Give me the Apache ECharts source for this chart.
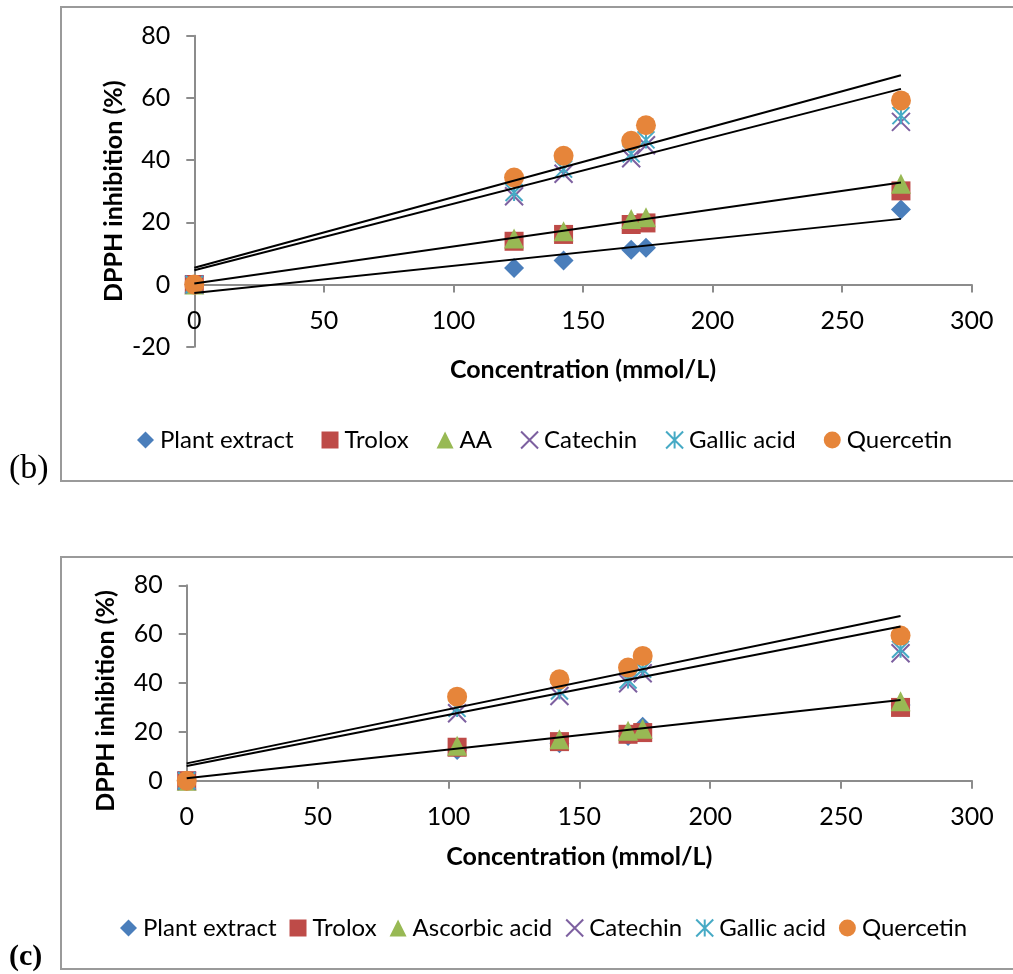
<!DOCTYPE html>
<html>
<head>
<meta charset="utf-8">
<script src="https://cdn.jsdelivr.net/npm/echarts@6/dist/echarts.min.js"></script>
<style>
html,body{margin:0;padding:0;background:#fff;}
#chart{width:1013px;height:974px;}
</style>
</head>
<body>
<div id="chart"></div>
<script>
// ---- Data: chart (b) ----
const concB      = [0, 123.4, 142.5, 168.6, 174.3, 272.7];
const plantB     = [0, 5.3, 7.7, 11.2, 11.8, 24.1];
const troloxB    = [0, 13.9, 16.1, 19.3, 19.8, 30.1];
const aaB        = [0, 14.8, 17.1, 21.1, 21.6, 32.4];
const catechinB  = [0, 28.4, 35.6, 40.6, 44.8, 52.3];
const gallicB    = [0, 29.6, 37.1, 42.0, 46.5, 54.3];
const quercetinB = [0, 34.4, 41.4, 46.2, 51.2, 59.2];
// trendlines (value at first and last concentration)
const trendNamesB = ['Quercetin', 'Gallic acid', 'AA', 'Plant extract'];
const trendStartB = [5.4, 4.6, 0.3, -2.7];
const trendEndB   = [67.3, 62.9, 32.8, 21.1];

// ---- Data: chart (c) ----
const concC      = [0, 103.3, 142.4, 168.6, 174.2, 272.7];
const plantC     = [0, 12.6, 15.3, 18.3, 22.1, 31.0];
const troloxC    = [0, 13.7, 16.0, 19.0, 19.7, 30.0];
const aaC        = [0, 14.3, 17.0, 20.5, 21.3, 32.5];
const catechinC  = [0, 27.6, 34.7, 39.9, 44.0, 52.2];
const gallicC    = [0, 29.6, 36.7, 41.2, 45.6, 53.8];
const quercetinC = [0, 34.4, 41.5, 46.3, 51.1, 59.4];
const trendNamesC = ['Quercetin', 'Gallic acid', 'Ascorbic acid'];
const trendStartC = [7.1, 6.0, 1.0];
const trendEndC   = [67.4, 63.1, 33.0];

const legendB = ['Plant extract', 'Trolox', 'AA', 'Catechin', 'Gallic acid', 'Quercetin'];
const legendC = ['Plant extract', 'Trolox', 'Ascorbic acid', 'Catechin', 'Gallic acid', 'Quercetin'];

// ---- Styles ----
const FONT = 'Lato';
const AXIS_GRAY = '#8c8c8c';
const styles = [
  {symbol: 'diamond', size: 20, color: '#4A7EBB'},
  {symbol: 'rect', size: 19, color: '#BE4B48'},
  {symbol: 'triangle', size: 20, color: '#98B954'},
  {symbol: 'path://M0,0L10,10M10,0L0,10', size: 18, stroke: '#7D60A0'},
  {symbol: 'path://M0,0L10,10M10,0L0,10M5,0L5,10', size: 17, stroke: '#46AAC5'},
  {symbol: 'circle', size: 20, color: '#E6853A'}
];

function pts(xs, ys) { return xs.map((x, i) => [x, ys[i]]); }

function scatterSeries(name, xs, ys, st, gi) {
  const s = {
    type: 'scatter', name: name, xAxisIndex: gi, yAxisIndex: gi,
    data: pts(xs, ys), symbol: st.symbol, symbolSize: st.size,
    clip: false, z: 2, emphasis: {disabled: true}
  };
  if (st.stroke) {
    s.itemStyle = {color: 'rgba(0,0,0,0)', borderColor: st.stroke, borderWidth: 2, opacity: 1};
  } else {
    s.itemStyle = {color: st.color, opacity: 1};
  }
  return s;
}

function trendSeries(name, xs, a, b, gi) {
  return {
    type: 'line', name: 'trend ' + name, xAxisIndex: gi, yAxisIndex: gi,
    data: [[xs[0], a], [xs[xs.length - 1], b]],
    symbol: 'none', clip: false, z: 5, silent: true,
    lineStyle: {color: '#000', width: 2}
  };
}

const seriesB = [plantB, troloxB, aaB, catechinB, gallicB, quercetinB];
const seriesC = [plantC, troloxC, aaC, catechinC, gallicC, quercetinC];

const series = [];
legendB.forEach((n, i) => series.push(scatterSeries(n, concB, seriesB[i], styles[i], 0)));
legendC.forEach((n, i) => series.push(scatterSeries(n, concC, seriesC[i], styles[i], 1)));
trendNamesB.forEach((n, i) => series.push(trendSeries(n + ' (b)', concB, trendStartB[i], trendEndB[i], 0)));
trendNamesC.forEach((n, i) => series.push(trendSeries(n + ' (c)', concC, trendStartC[i], trendEndC[i], 1)));

function xAxisCfg(gi, gap, margin) {
  return {
    type: 'value', gridIndex: gi, min: 0, max: 300, interval: 50,
    name: 'Concentration (mmol/L)', nameLocation: 'middle', nameGap: gap,
    nameMoveOverlap: false,
    nameTextStyle: {fontFamily: FONT, fontSize: 25, fontWeight: 'bold', color: '#000'},
    axisLine: {show: true, onZero: true, lineStyle: {color: AXIS_GRAY, width: 2}},
    axisTick: {show: true, length: 8, lineStyle: {color: AXIS_GRAY, width: 2}},
    axisLabel: {fontFamily: FONT, fontSize: 25, color: '#000', margin: margin},
    splitLine: {show: false}
  };
}
function yAxisCfg(gi, min, gap, pad) {
  return {
    type: 'value', gridIndex: gi, min: min, max: 80, interval: 20,
    name: 'DPPH inhibition (%)', nameLocation: 'middle', nameRotate: 90, nameGap: gap,
    nameMoveOverlap: false,
    nameTextStyle: {fontFamily: FONT, fontSize: 25, fontWeight: 'bold', color: '#000', padding: pad},
    axisLine: {show: true, onZero: false, lineStyle: {color: AXIS_GRAY, width: 2}},
    axisTick: {show: true, length: 8, lineStyle: {color: AXIS_GRAY, width: 2}},
    axisLabel: {fontFamily: FONT, fontSize: 25, color: '#000', margin: 24},
    splitLine: {show: false}
  };
}

function legendCfg(names, left, top, gap) {
  return {
    data: names.map(n => ({name: n})),
    left: left, top: top, itemGap: gap, itemWidth: 17, itemHeight: 17,
    padding: 0, selectedMode: false,
    textStyle: {fontFamily: FONT, fontSize: 24, color: '#000', padding: [0, 0, 0, 1]}
  };
}

const chart = echarts.init(document.getElementById('chart'), null, {renderer: 'canvas'});
chart.setOption({
  animation: false,
  backgroundColor: '#fff',
  grid: [
    {left: 194.3, top: 35.7, width: 777.4, height: 311},
    {left: 186.7, top: 585.3, width: 785.3, height: 195.4}
  ],
  xAxis: [xAxisCfg(0, 11, -38.7), xAxisCfg(1, 64, 24)],
  yAxis: [yAxisCfg(0, -20, 68, 0), yAxisCfg(1, 0, 68, [0, 36, 0, 0])],
  legend: [legendCfg(legendB, 137, 428, 28), legendCfg(legendC, 120, 916, 13)],
  graphic: [
    {type: 'rect', shape: {x: 61, y: 7, width: 1000, height: 474}, style: {fill: 'none', stroke: '#9a9a9a', lineWidth: 2}, silent: true},
    {type: 'rect', shape: {x: 61, y: 557, width: 1000, height: 412}, style: {fill: 'none', stroke: '#9a9a9a', lineWidth: 2}, silent: true},
    {type: 'text', left: 9, top: 452, style: {text: '(b)', font: '34px "Liberation Serif"', fill: '#000'}},
    {type: 'text', left: 9, top: 942, style: {text: '(c)', font: 'bold 30px "Liberation Serif"', fill: '#000'}}
  ],
  series: series
});
</script>
</body>
</html>
